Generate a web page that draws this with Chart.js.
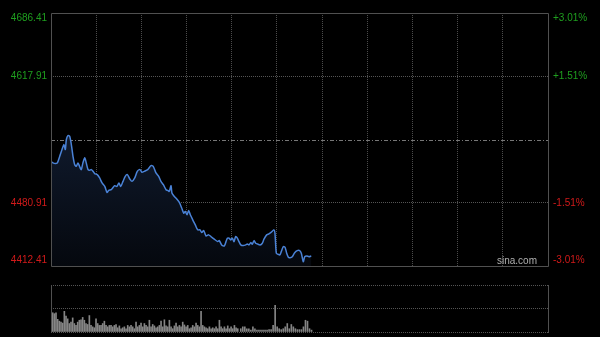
<!DOCTYPE html>
<html><head><meta charset="utf-8">
<script src="https://cdn.jsdelivr.net/npm/chart.js@4.4.0/dist/chart.umd.min.js"></script>
<style>
html,body{margin:0;padding:0;background:#000;width:600px;height:337px;overflow:hidden}
#c1{position:absolute;left:0;top:0}
#c2{position:absolute;left:0;top:275px}
</style></head><body>
<canvas id="c1" width="600" height="275"></canvas>
<canvas id="c2" width="600" height="62"></canvas>
<script>
// ---- data ----
const minutes = [0,1.3,2.9,4.2,5.8,7.3,8.6,9.5,10.2,11.3,12.4,13.5,14.6,15.7,16.8,17.9,19.1,20.1,21.2,22.4,23.4,24.6,25.7,26.8,27.9,29.0,30.7,32.3,33.9,35.7,37.2,38.3,40.0,42.3,43.8,45.1,46.3,47.8,49.3,50.7,52.3,53.8,55.6,57.3,59.1,60.4,61.9,64.2,66.4,67.9,69.7,71.5,73.0,74.6,76.4,77.5,78.5,79.7,80.3,81.9,83.5,85.2,86.8,88.1,89.2,90.3,91.4,92.5,94.1,95.8,97.4,98.9,100.1,101.4,102.9,104.7,106.2,108.4,110.7,111.7,113.5,115.1,116.2,117.1,118.2,119.3,120.4,121.5,122.6,123.7,124.8,126.0,127.7,129.3,130.3,131.5,132.6,133.7,134.8,135.9,137.0,138.8,140.3,141.4,143.2,144.7,146.3,148.1,148.7,149.6,150.7,151.9,152.9,154.2,155.4,156.5,157.6,158.7,160.2,161.8,163.5,165.1,166.2,167.5,168.5,169.8,171.3,172.8];
const prices = [4525.82,4524.08,4523.31,4524.08,4531.25,4538.54,4543.97,4538.54,4549.41,4553.76,4553.00,4543.97,4531.25,4522.23,4520.38,4524.08,4519.73,4516.79,4524.08,4529.51,4524.08,4516.79,4516.03,4516.79,4514.94,4512.44,4511.35,4507.77,4502.33,4498.63,4492.11,4494.28,4495.05,4499.39,4498.63,4502.33,4498.63,4504.07,4509.51,4511.35,4506.68,4504.07,4507.77,4514.94,4516.79,4513.86,4514.94,4516.79,4521.14,4520.38,4513.20,4509.51,4504.07,4500.48,4495.05,4494.28,4493.20,4499.39,4491.46,4487.76,4484.93,4481.24,4475.15,4469.71,4471.45,4467.86,4472.54,4467.86,4462.43,4456.99,4451.55,4451.55,4448.62,4450.79,4445.03,4446.12,4444.27,4441.44,4438.83,4439.92,4434.92,4434.16,4438.83,4442.53,4442.53,4440.68,4442.53,4438.83,4444.27,4442.53,4438.83,4435.24,4434.48,4435.24,4436.33,4435.24,4437.74,4436.00,4439.92,4437.09,4436.33,4435.24,4437.09,4441.44,4446.12,4447.20,4449.05,4451.55,4447.97,4426.22,4425.13,4424.37,4427.96,4433.40,4432.74,4426.22,4421.87,4421.43,4422.52,4426.87,4429.05,4429.05,4426.22,4417.09,4422.52,4423.28,4422.52,4423.28];
const prevClose = 4549.41;
const priceTicks = [4412.41,4480.91,4549.41,4617.91,4686.41];
const priceLabels = ['4412.41','4480.91','','4617.91','4686.41'];
const pctTicks = [-3.01,-1.51,0,1.51,3.01];
const pctLabels = ['-3.01%','-1.51%','','+1.51%','+3.01%'];
const sessionMinutes = 330;
const timeGridStep = 30;
// volume bars, morning part and afternoon part (relative units, 100 = panel top)
const volumesAM = [100,41,39,41,27,23,21,19,44,34,28,18,21,30,18,14,21,25,26,31,25,18,16,35,14,11,9,28,18,14,14,18,23,14,11,14,14,11,14,16,9,13,7,9,11,7,14,11,14,11,7,21,11,14,19,11,18,14,11,25,11,16,13,9,11,14,23,11,26,13,11,25,11,7,13,19,11,14,11,21,15,11,14,7,9,14,11,19,14,11,44,14,11,9,7,11,7,9,7,11,7,25,11,7,11,7,13,7,11,7,14,9,7];
const volumesPM = [7,11,11,7,7,4,11,7,4,4,4,4,4,4,5,5,14,57,11,7,5,7,11,18,7,16,11,7,5,5,5,11,25,23,7,4];
const volAMSpan = [0,124];
const volPMSpan = [126,173];
const volTicks = [0,50,100];

// ---- helpers ----
const FONT = '10px "Liberation Sans", Arial, sans-serif';
const UP = '#1f9f1f', DOWN = '#d21a1a';

const linePoints = minutes.map((m,i)=>({x:m,y:prices[i]}));
const volPoints = [];
volumesAM.forEach((v,i)=>volPoints.push({x:volAMSpan[0]+i*(volAMSpan[1]-volAMSpan[0])/(volumesAM.length-1), y:v}));
volumesPM.forEach((v,i)=>volPoints.push({x:volPMSpan[0]+i*(volPMSpan[1]-volPMSpan[0])/(volumesPM.length-1), y:v}));

const framePlugin = {
  id:'frame',
  afterDraw(chart, args, opts){
    const {ctx, chartArea:a} = chart;
    ctx.save();
    ctx.strokeStyle = '#505050'; ctx.lineWidth = 1;
    ctx.beginPath();
    if (opts.full) {
      ctx.rect(a.left+0.5, a.top+0.5, a.right-a.left, a.bottom-a.top);
    } else {
      ctx.moveTo(a.left+0.5, a.top); ctx.lineTo(a.left+0.5, a.bottom+1);
      ctx.moveTo(a.right+0.5, a.top); ctx.lineTo(a.right+0.5, a.bottom+1);
    }
    ctx.stroke();
    ctx.restore();
  }
};

const prevClosePlugin = {
  id:'prevClose',
  beforeDatasetsDraw(chart){
    const {ctx, chartArea:a, scales} = chart;
    const y = Math.round(scales.y.getPixelForValue(prevClose)) + 0.5;
    ctx.save();
    ctx.strokeStyle = '#777'; ctx.lineWidth = 1;
    ctx.setLineDash([4,2,1,2]);
    ctx.beginPath(); ctx.moveTo(a.left, y); ctx.lineTo(a.right, y); ctx.stroke();
    ctx.restore();
  }
};

const labelPlugin = {
  id:'sideLabels',
  afterDraw(chart){
    const {ctx, chartArea:a, scales} = chart;
    ctx.save();
    ctx.font = FONT;
    ctx.textBaseline = 'middle';
    const clampY = y => Math.min(Math.max(y, a.top+5.5), a.bottom-6);
    priceTicks.forEach((v,i)=>{
      if (!priceLabels[i]) return;
      ctx.fillStyle = v > prevClose ? UP : DOWN;
      ctx.textAlign = 'right';
      ctx.fillText(priceLabels[i], a.left-4, clampY(scales.y.getPixelForValue(v)));
    });
    pctTicks.forEach((v,i)=>{
      if (!pctLabels[i]) return;
      ctx.fillStyle = v > 0 ? UP : DOWN;
      ctx.textAlign = 'left';
      ctx.fillText(pctLabels[i], a.right+5, clampY(scales.y2.getPixelForValue(v)));
    });
    ctx.fillStyle = '#b0b0b0';
    ctx.textAlign = 'right';
    ctx.fillText('sina.com', a.right-11, a.bottom-5);
    ctx.restore();
  }
};

const hiddenTicks = {display:false};

new Chart(document.getElementById('c1'), {
  type:'line',
  data:{datasets:[{
    data: linePoints,
    borderColor:'#4a82d6',
    borderWidth:1.5,
    pointRadius:0,
    tension:0.25,
    fill:'start',
    backgroundColor:(c)=>{
      const a = c.chart.chartArea;
      if (!a) return '#0b1322';
      const g = c.chart.ctx.createLinearGradient(0,a.top,0,a.bottom);
      g.addColorStop(0,'#1b2b48');
      g.addColorStop(0.5,'#0f192b');
      g.addColorStop(1,'#05080e');
      return g;
    }
  }]},
  options:{
    responsive:false, animation:false, devicePixelRatio:1,
    layout:{padding:{left:51,right:52,top:13,bottom:9}},
    plugins:{legend:{display:false}, tooltip:{enabled:false}, frame:{full:true}},
    scales:{
      x:{type:'linear', min:0, max:sessionMinutes,
         ticks:{display:false, stepSize:timeGridStep},
         grid:{drawTicks:false, color:(c)=> (c.tick && (c.tick.value<=0 || c.tick.value>=sessionMinutes)) ? 'rgba(0,0,0,0)' : '#4c4c4c'},
         border:{display:false, dash:[1,1]}},
      y:{min:priceTicks[0], max:priceTicks[priceTicks.length-1],
         afterBuildTicks:(s)=>{ s.ticks = priceTicks.map(v=>({value:v})); },
         ticks:hiddenTicks,
         grid:{drawTicks:false, color:(c)=> (c.tick && (c.tick.value===priceTicks[1] || c.tick.value===priceTicks[3])) ? '#555' : 'rgba(0,0,0,0)'},
         border:{display:false, dash:[1,1]}},
      y2:{position:'right', min:pctTicks[0], max:pctTicks[pctTicks.length-1], display:false}
    }
  },
  plugins:[prevClosePlugin, framePlugin, labelPlugin]
});

new Chart(document.getElementById('c2'), {
  type:'bar',
  data:{datasets:[{
    data: volPoints,
    backgroundColor:'#858585',
    barThickness:1,
    borderWidth:0
  }]},
  options:{
    responsive:false, animation:false, devicePixelRatio:1,
    layout:{padding:{left:51,right:52,top:10,bottom:5}},
    plugins:{legend:{display:false}, tooltip:{enabled:false}, frame:{full:false}},
    scales:{
      x:{type:'linear', min:0, max:sessionMinutes, offset:false,
         ticks:hiddenTicks, grid:{display:false, drawTicks:false}, border:{display:false}},
      y:{min:volTicks[0], max:volTicks[volTicks.length-1],
         afterBuildTicks:(s)=>{ s.ticks = volTicks.map(v=>({value:v})); },
         ticks:hiddenTicks,
         grid:{drawTicks:false, color:'#555'},
         border:{display:false, dash:[1,1]}}
    }
  },
  plugins:[framePlugin]
});
</script>
</body></html>
